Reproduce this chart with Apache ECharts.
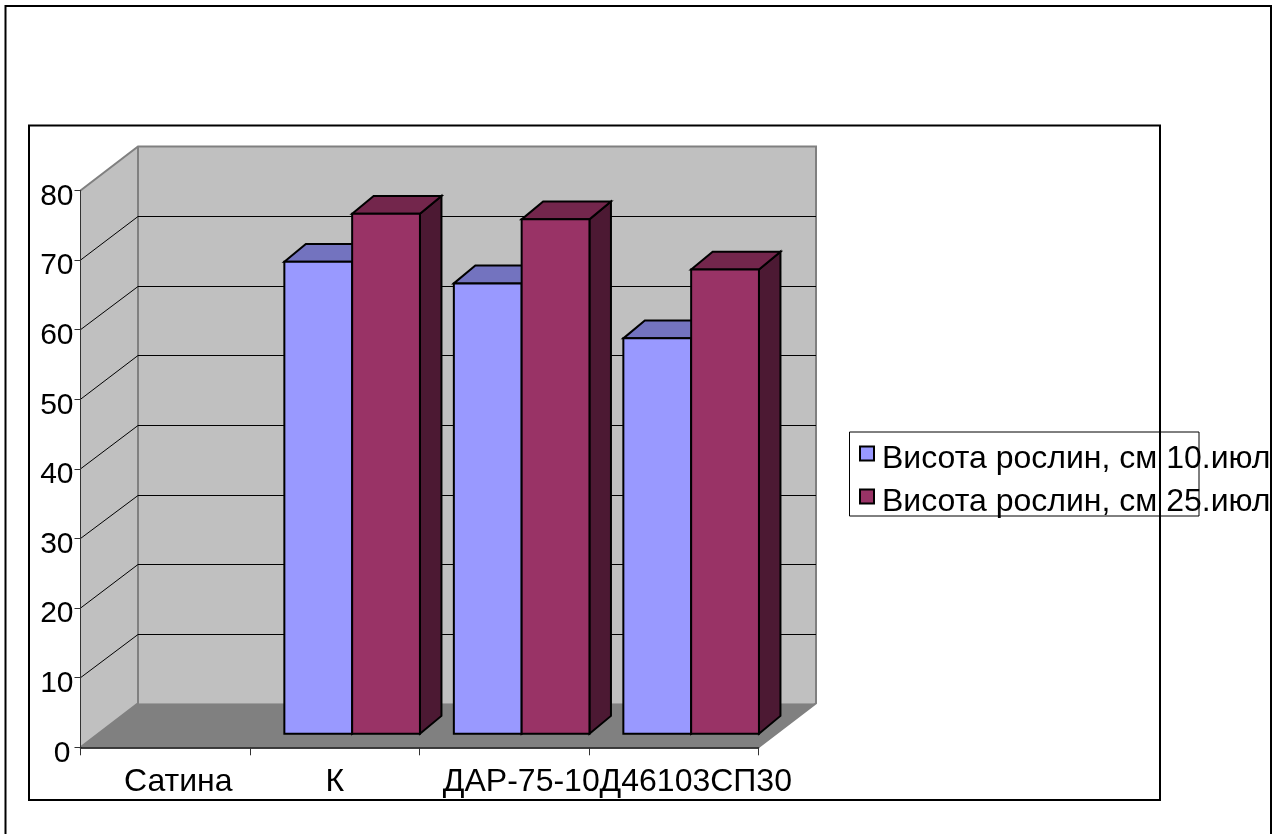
<!DOCTYPE html>
<html>
<head>
<meta charset="utf-8">
<style>html,body{margin:0;padding:0;background:#fff}#chart{width:1288px;height:834px}</style>
<script src="https://cdn.jsdelivr.net/npm/echarts@6/dist/echarts.min.js"></script>
</head>
<body>
<div id="chart"></div>
<script>
// Plant height by variety, two measurement dates
const categories = ['Сатина', 'К', 'ДАР-75-10', 'Д46103СП30'];
const heightJul10 = [null, 67.8, 64.7, 56.8];
const heightJul25 = [null, 74.7, 73.9, 66.7];
const seriesNames = ['Висота рослин, см 10.июл', 'Висота рослин, см 25.июл'];
const valueTicks = [10, 20, 30, 40, 50, 60, 70];
const FONT = '"Liberation Sans", Arial, sans-serif';
const FONT_SIZE = 32;
const VALUE_FONT_SIZE = 30;

// Oblique projection offsets, in pixels
const WALL_DX = 57.5, WALL_DY = -44;
const PLANE_DX = 17.4, PLANE_DY = -13.6;
const DEPTH_DX = 21.5, DEPTH_DY = -17.8;
const BAR_SHARE = 0.4;
const AXIS_MAX = 80;

const palette = [
  { front: '#9999FF', top: '#7373BF', side: '#4C4C80' },
  { front: '#993366', top: '#73264C', side: '#4C1933' }
];

function poly(points, fill, stroke, lineWidth) {
  return {
    type: 'polygon',
    shape: { points },
    style: { fill, stroke: stroke || 'none', lineWidth: lineWidth || 0, lineJoin: 'miter' }
  };
}
function line(points, stroke, lineWidth) {
  return {
    type: 'polyline',
    shape: { points },
    style: { fill: 'none', stroke, lineWidth }
  };
}

// Side wall, back wall and floor of the box
function renderBox(params, api) {
  const g = params.coordSys;
  const x0 = g.x, x1 = g.x + g.width;
  const yb = api.coord([0, 0])[1], yt = api.coord([0, AXIS_MAX])[1];
  const bx0 = x0 + WALL_DX, bx1 = x1 + WALL_DX;
  const byb = yb + WALL_DY, byt = yt + WALL_DY;
  const edge = '#808080';
  return {
    type: 'group',
    children: [
      poly([[bx0, byt], [bx1, byt], [bx1, byb], [bx0, byb]], '#C0C0C0'),
      poly([[x0, yt], [bx0, byt], [bx0, byb], [x0, yb]], '#C0C0C0'),
      poly([[x0, yb], [bx0, byb], [bx1, byb], [x1, yb]], '#808080'),
      line([[x0, yt], [bx0, byt], [bx1, byt], [bx1, byb], [x1, yb]], edge, 2),
      line([[bx0, byt], [bx0, byb], [x0, yb]], edge, 2)
    ]
  };
}

// Gridline that runs along the side wall and across the back wall;
// the horizontal run sits on a whole pixel so it stays crisp
function renderGridline(params, api) {
  const g = params.coordSys;
  const y = api.coord([0, api.value(1)])[1];
  const backY = Math.round(y + WALL_DY) + 0.5;
  return line([
    [g.x, y],
    [g.x + WALL_DX, backY],
    [g.x + g.width + WALL_DX, backY]
  ], '#000', 1);
}

// Cuboid bar, set back from the front axis plane
function barRenderer(seriesIndex) {
  return function (params, api) {
    const value = api.value(1);
    if (value == null || isNaN(value)) return null;
    const colors = palette[seriesIndex];
    const slot = api.size([1, 0])[0];
    const w = slot * BAR_SHARE;
    const cx = api.coord([api.value(0), 0])[0] + PLANE_DX;
    const left = cx + (seriesIndex === 0 ? -w : 0);
    const right = left + w;
    const bottom = api.coord([0, 0])[1] + PLANE_DY;
    const top = api.coord([0, value])[1] + PLANE_DY;
    return {
      type: 'group',
      children: [
        poly([[right, bottom], [right + DEPTH_DX, bottom + DEPTH_DY], [right + DEPTH_DX, top + DEPTH_DY], [right, top]], colors.side, '#000', 2),
        poly([[left, top], [left + DEPTH_DX, top + DEPTH_DY], [right + DEPTH_DX, top + DEPTH_DY], [right, top]], colors.top, '#000', 2),
        poly([[left, bottom], [right, bottom], [right, top], [left, top]], colors.front, '#000', 2)
      ]
    };
  };
}

function toRows(values) {
  return categories.map((c, i) => [i, values[i]]);
}

const chart = echarts.init(document.getElementById('chart'), null, { renderer: 'canvas' });
chart.setOption({
  animation: false,
  backgroundColor: '#fff',
  textStyle: { fontFamily: FONT },
  grid: { left: 80.5, right: 529.5, top: 190.5, bottom: 86.7 },
  xAxis: {
    type: 'category',
    data: [
      { value: categories[0], textStyle: { padding: [0, 0, 0, 26] } },
      { value: categories[1] },
      { value: categories[2], textStyle: { padding: [0, 0, 0, 34] } },
      { value: categories[3], textStyle: { padding: [0, 0, 0, 44] } }
    ],
    z: 3,
    axisLine: { lineStyle: { color: '#000', width: 1.5 } },
    axisTick: { show: true, length: 8, alignWithLabel: false, lineStyle: { color: '#333', width: 1 } },
    axisLabel: { interval: 0, hideOverlap: false, color: '#000', fontFamily: FONT, fontSize: FONT_SIZE, margin: 19 },
    splitLine: { show: false }
  },
  yAxis: {
    type: 'value',
    min: 0,
    max: AXIS_MAX,
    interval: 10,
    z: 3,
    axisLine: { show: true, lineStyle: { color: '#333', width: 1 } },
    axisTick: { show: true, length: 6, lineStyle: { color: '#333', width: 1 } },
    axisLabel: {
      color: '#000',
      fontFamily: FONT,
      fontSize: VALUE_FONT_SIZE,
      margin: 7,
      padding: [12, 0, 0, 0],
      formatter: v => v === 0 ? '{zero|0}' : String(v),
      rich: { zero: { fontSize: VALUE_FONT_SIZE, fontFamily: FONT, color: '#000', padding: [0, 3, 0, 0] } }
    },
    splitLine: { show: false }
  },
  legend: {
    data: seriesNames,
    orient: 'vertical',
    left: 859,
    top: 443,
    padding: 0,
    itemWidth: 14,
    itemHeight: 14,
    itemGap: 11,
    icon: 'rect',
    selectedMode: false,
    formatter: name => '{t|' + name + '}',
    textStyle: {
      color: '#000',
      fontFamily: FONT,
      fontSize: FONT_SIZE,
      rich: { t: { color: '#000', fontFamily: FONT, fontSize: FONT_SIZE, padding: [11, 0, 0, 3] } }
    }
  },
  graphic: [
    { type: 'rect', z: -1, shape: { x: 5.5, y: 6, width: 1265.5, height: 900 }, style: { fill: 'none', stroke: '#000', lineWidth: 2 } },
    { type: 'rect', z: -1, shape: { x: 29, y: 125.5, width: 1131, height: 674.5 }, style: { fill: 'none', stroke: '#000', lineWidth: 2 } },
    { type: 'rect', z: 1, shape: { x: 849.5, y: 432, width: 349.5, height: 84 }, style: { fill: 'none', stroke: '#000', lineWidth: 1 } }
  ],
  series: [
    { name: 'box', type: 'custom', z: 1, silent: true, clip: false, coordinateSystem: 'cartesian2d', data: [[0, 0]], encode: { x: 0, y: 1 }, renderItem: renderBox },
    { name: 'gridlines', type: 'custom', z: 1, silent: true, clip: false, coordinateSystem: 'cartesian2d', data: valueTicks.map(v => [0, v]), encode: { x: 0, y: 1 }, renderItem: renderGridline },
    { name: seriesNames[0], type: 'custom', z: 4, clip: false, coordinateSystem: 'cartesian2d', data: toRows(heightJul10), encode: { x: 0, y: 1 }, itemStyle: { color: palette[0].front, borderColor: '#000', borderWidth: 1.5 }, renderItem: barRenderer(0) },
    { name: seriesNames[1], type: 'custom', z: 4, clip: false, coordinateSystem: 'cartesian2d', data: toRows(heightJul25), encode: { x: 0, y: 1 }, itemStyle: { color: palette[1].front, borderColor: '#000', borderWidth: 1.5 }, renderItem: barRenderer(1) }
  ]
});
</script>
</body>
</html>
